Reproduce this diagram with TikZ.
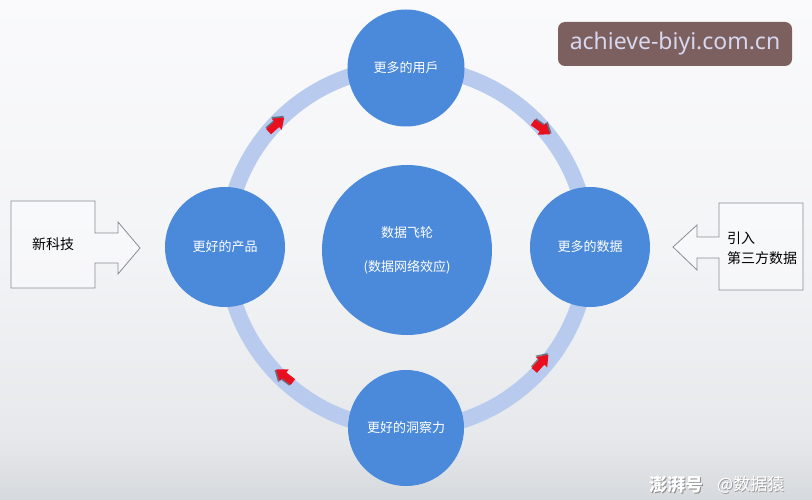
\documentclass[tikz,border=0pt]{standalone}
\usepackage{fontspec}
\setmainfont{Noto Sans CJK SC}
\newfontfamily\latinfont{Noto Sans}
\usetikzlibrary{shadings}
\definecolor{bgtop}{HTML}{FAFAFC}
\definecolor{bgmid}{HTML}{F3F4F6}
\definecolor{bglow}{HTML}{E6E8EB}
\definecolor{bgbot}{HTML}{D6D9DD}
\definecolor{ringc}{HTML}{B8CBEE}
\definecolor{circc}{HTML}{4B8ADB}
\definecolor{arrred}{HTML}{EA0F1E}
\definecolor{wmbox}{HTML}{7C5F5F}
\definecolor{wmtext}{HTML}{D8D7EE}
\definecolor{outl}{HTML}{8A8D92}
\pgfdeclareverticalshading{bgshade}{100bp}{color(0bp)=(bgbot); color(25bp)=(bgbot); color(31bp)=(bglow); color(50bp)=(bgmid); color(75bp)=(bgtop); color(100bp)=(bgtop)}
\tikzset{
  hub/.style={circle, fill=circc, draw=none, text=white, font=\fontsize{13}{15}\selectfont, inner sep=0pt, minimum size=#1},
  callout/.style={draw=outl, line width=0.8pt, fill=white, fill opacity=0.4, draw opacity=1},
  sidetext/.style={font=\fontsize{14}{20}\selectfont, text=black, align=left, inner sep=0pt},
}
\newcommand{\redarrow}[3]{%
  \begin{scope}[shift={(#1,#2)}, rotate=#3]
    \fill[black, opacity=0.45, shift={(0.8,-1.6)}] (-10,-3.6) -- (1,-3.6) -- (1,-7.5) -- (11,0) -- (1,7.5) -- (1,3.6) -- (-10,3.6) -- cycle;
    \fill[arrred] (-10,-3.6) -- (1,-3.6) -- (1,-7.5) -- (11,0) -- (1,7.5) -- (1,3.6) -- (-10,3.6) -- cycle;
  \end{scope}}
\begin{document}
\begin{tikzpicture}[x=1pt, y=-1pt]
  \shade[shading=bgshade] (0,0) rectangle (812,500);
  \useasboundingbox (0,0) rectangle (812,500);

  % ring
  \draw[ringc, line width=16pt] (407,248) circle[radius=181];

  % hubs
  \node[hub=117pt] (users) at (406,68) {更多的用戶};
  \node[hub=120pt] (product) at (225,247) {更好的产品};
  \node[hub=120pt] (data) at (590,247) {更多的数据};
  \node[hub=116pt] (insight) at (406,428) {更好的洞察力};
  \node[hub=170pt, align=center, font=\fontsize{13}{34}\selectfont] (core) at (407,250) {数据飞轮\\(数据网络效应)};

  % red arrows
  \redarrow{276}{125}{42}
  \redarrow{541}{128}{-35}
  \redarrow{541}{363}{48}
  \redarrow{285}{376}{143}

  % left callout
  \draw[callout] (11,201) -- (95,201) -- (95,233) -- (118,233) -- (118,222) -- (140,248) -- (118,274) -- (118,263) -- (95,263) -- (95,288) -- (11,288) -- cycle;
  \node[sidetext] (tech) at (53,244) {新科技};
  \coordinate (techtip) at (140,248);

  % right callout
  \draw[callout] (803,203) -- (719,203) -- (719,237) -- (697,237) -- (697,225) -- (673,247) -- (697,270) -- (697,258) -- (719,258) -- (719,290) -- (803,290) -- cycle;
  \node[sidetext, anchor=west] (third) at (727,248) {引入\\第三方数据};
  \coordinate (thirdtip) at (673,247);

  % watermark box
  \node[fill=wmbox, rounded corners=7pt, minimum width=234pt, minimum height=44pt, text=wmtext, font=\latinfont\fontsize{23}{26}\selectfont, inner sep=0pt] (wm) at (675,44) {achieve-biyi.com.cn};

  % bottom watermark
  \node[text=black!45, font=\bfseries\itshape\fontsize{18}{20}\selectfont, anchor=west, inner sep=0pt] at (649.8,485.8) {澎湃号};
  \node[text=white, font=\bfseries\itshape\fontsize{18}{20}\selectfont, anchor=west, inner sep=0pt] (wm2) at (649,485) {澎湃号};
  \node[text=black!40, font=\fontsize{17}{19}\selectfont, anchor=west, inner sep=0pt] at (717.8,485.8) {@数据猿};
  \node[text=white, font=\fontsize{17}{19}\selectfont, anchor=west, inner sep=0pt] (wm3) at (717,485) {@数据猿};
\end{tikzpicture}
\end{document}
